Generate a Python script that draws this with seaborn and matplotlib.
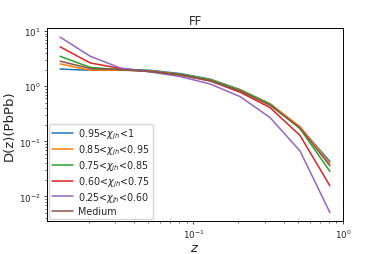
import pandas as pd
import matplotlib
matplotlib.use("Agg")
import matplotlib.pyplot as plt
import seaborn as sns

# bin centres in z
z = [0.0129, 0.0205, 0.0325, 0.0515, 0.0816, 0.1294, 0.2050, 0.3249, 0.5150, 0.8155]

# D(z) per chi_jh class
d_095_1 = [2.05, 1.95, 2.05, 1.95, 1.70, 1.35, 0.87, 0.48, 0.180, 0.043]
d_085_095 = [2.55, 1.95, 1.95, 1.90, 1.65, 1.32, 0.86, 0.48, 0.185, 0.039]
d_075_085 = [3.50, 2.20, 2.00, 1.85, 1.65, 1.30, 0.85, 0.47, 0.170, 0.0285]
d_060_075 = [5.20, 2.65, 2.10, 1.85, 1.60, 1.25, 0.78, 0.41, 0.128, 0.0156]
d_025_060 = [7.80, 3.50, 2.15, 1.82, 1.50, 1.10, 0.65, 0.27, 0.067, 0.0051]
d_medium = [2.85, 2.10, 2.00, 1.85, 1.60, 1.25, 0.82, 0.45, 0.175, 0.036]

labels = [r"0.95<$\chi_{jh}$<1", r"0.85<$\chi_{jh}$<0.95", r"0.75<$\chi_{jh}$<0.85",
          r"0.60<$\chi_{jh}$<0.75", r"0.25<$\chi_{jh}$<0.60", "Medium"]
series = [d_095_1, d_085_095, d_075_085, d_060_075, d_025_060, d_medium]

rows = []
for lab, vals in zip(labels, series):
    for zi, v in zip(z, vals):
        rows.append({"z": zi, "D": v, "cls": lab})
df = pd.DataFrame(rows)

sns.set_style("ticks")
plt.rcParams["font.family"] = ["DejaVu Sans"]

fig, ax = plt.subplots(figsize=(3.82, 2.55), dpi=100)
sns.lineplot(data=df, x="z", y="D", hue="cls", hue_order=labels,
             palette=sns.color_palette("tab10", 6), linewidth=1.1, ax=ax)
ax.set_xscale("log")
ax.set_yscale("log")
ax.set_title("FF", fontsize=8.5, pad=3)
ax.set_xlabel(r"$z$", fontsize=9.5, labelpad=1)
ax.set_ylabel("D(z)(PbPb)", fontsize=9.5, labelpad=2)
ax.tick_params(labelsize=6.3, length=2.5, width=0.6, pad=2)
ax.tick_params(which="minor", length=1.5, width=0.5)
for s in ax.spines.values():
    s.set_linewidth(0.7)
    s.set_color("black")
ax.legend(loc="lower left", fontsize=6.9, handlelength=2.2, handletextpad=0.55,
          frameon=True, labelspacing=0.15, borderpad=0.3, borderaxespad=0.25)

plt.subplots_adjust(left=0.122, right=0.899, top=0.885, bottom=0.128)
plt.savefig("out.png", dpi=100)
